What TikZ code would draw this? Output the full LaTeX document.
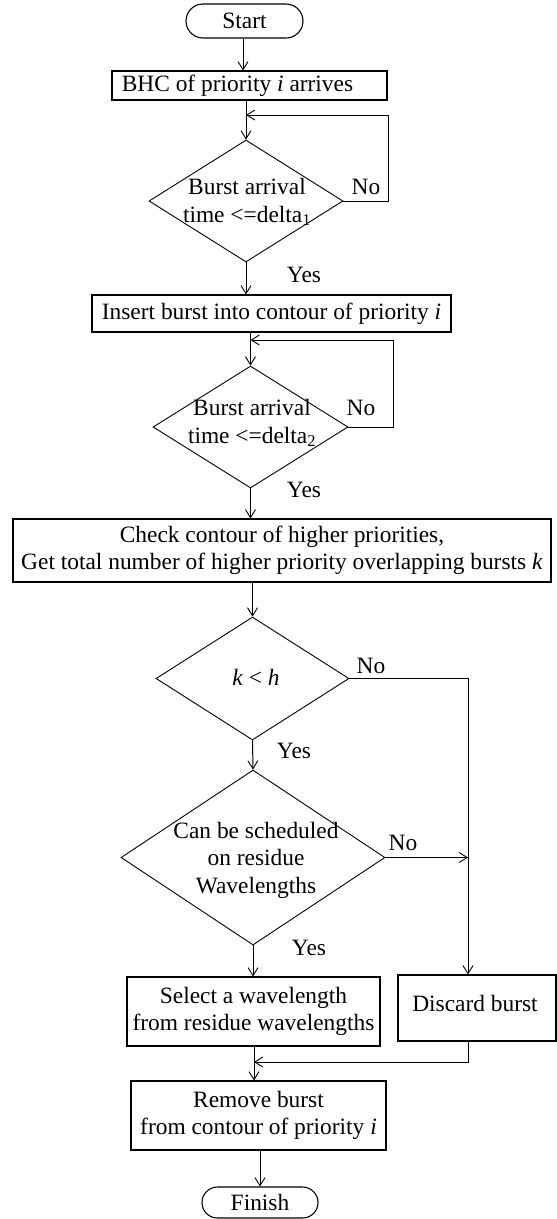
\documentclass[tikz,border=0pt]{standalone}
\usepackage{fontspec}
\setmainfont{Liberation Serif}
\usetikzlibrary{shapes.geometric,shapes.misc,arrows.meta}
\begin{document}
\begin{tikzpicture}[x=1pt,y=-1pt,
  every node/.style={font=\fontsize{23.4}{27.5}\selectfont, inner sep=0pt, align=center},
  procbox/.style={draw, line width=1.1pt, rectangle},
  termbox/.style={draw, line width=1.1pt, rounded rectangle},
  decision/.style={draw, line width=0.9pt, diamond},
  flow/.style={line width=1pt, -{Straight Barb[length=8pt,width=10pt,line width=0.9pt]}},
]
\useasboundingbox (0,0) rectangle (557,1219);

% --- process steps
\node[termbox, minimum width=117pt, minimum height=34pt] (start) at (244.5,21) {Start};
\node[procbox, minimum width=275pt, minimum height=29pt] (bhc) at (249.5,85.5) {BHC of priority \textit{i} arrives\hspace*{24pt}};
\node[decision, minimum width=194pt, minimum height=122pt] (d1) at (246,201) {};
\node (d1txt) at (247,202) {Burst arrival\\time \textless=delta\textsubscript{1}};
\node[procbox, minimum width=359pt, minimum height=37pt] (ins) at (271.5,313.5) {Insert burst into contour of priority \textit{i}};
\node[decision, minimum width=195pt, minimum height=122pt] (d2) at (250.5,427) {};
\node (d2txt) at (252,423) {Burst arrival\\time \textless=delta\textsubscript{2}};
\node[procbox, minimum width=538pt, minimum height=63pt] (check) at (282,550.5)
  {Check contour of higher priorities,\\Get total number of higher priority overlapping bursts \textit{k}};
\node[decision, minimum width=193pt, minimum height=123pt] (d3) at (252.5,678.5) {};
\node (d3txt) at (256,677) {\textit{k} \textless{} \textit{h}};
\node[decision, minimum width=264pt, minimum height=175pt] (d4) at (253,857.5) {};
\node (d4txt) at (256,860) {Can be scheduled\\on residue\\Wavelengths};
\node[procbox, minimum width=253pt, minimum height=69pt] (sel) at (253.5,1011.5) {Select a wavelength\\from residue wavelengths};
\node[procbox, minimum width=158pt, minimum height=66pt] (disc) at (477,1008) {};
\node (disctxt) at (475,1003) {Discard burst};
\node[procbox, minimum width=255pt, minimum height=69pt] (rem) at (258.5,1115.5) {Remove burst\\from contour of priority \textit{i}};
\node[termbox, minimum width=116pt, minimum height=31pt] (fin) at (260,1202.5) {Finish};

% --- branch labels
\node (no1) at (366,187) {No};
\node (yes1) at (304,275) {Yes};
\node (no2) at (361,408) {No};
\node (yes2) at (304,490) {Yes};
\node (no3) at (371,666) {No};
\node (yes3) at (294,751) {Yes};
\node (no4) at (403,843) {No};
\node (yes4) at (309,948) {Yes};

% --- helper points for the loops and the right-hand branch
\coordinate (l1c) at (388,115);
\coordinate (l1e) at (246,115);
\coordinate (l2c) at (393,340);
\coordinate (l2e) at (250.5,340);
\coordinate (rx) at (468,0);
\coordinate (jn) at (254,1062);

% --- connectors
\draw[flow] (start.south -| 243,0) -- (243,0 |- bhc.north);
\draw[flow] (d1.north |- bhc.south) -- (d1.north);
\draw[flow] (d1.east) -| (l1c) -- (l1e);
\draw[flow] (d1.south) -- (d1.south |- ins.north);
\draw[flow] (d2.north |- ins.south) -- (d2.north);
\draw[flow] (d2.east) -| (l2c) -- (l2e);
\draw[flow] (d2.south) -- (d2.south |- check.north);
\draw[flow] (d3.north |- check.south) -- (d3.north);
\draw[flow] (d3.east) -| (rx |- disc.north);
\draw[flow] (d3.south) -- (d4.north);
\draw[flow] (d4.east) -- (rx |- d4.east);
\draw[flow] (d4.south) -- (d4.south |- sel.north);
\draw[flow] (rx |- disc.south) |- (jn);
\draw[flow] (jn |- sel.south) -- (jn |- rem.north);
\draw[flow] (rem.south -| fin.north) -- (fin.north);
\end{tikzpicture}
\end{document}
